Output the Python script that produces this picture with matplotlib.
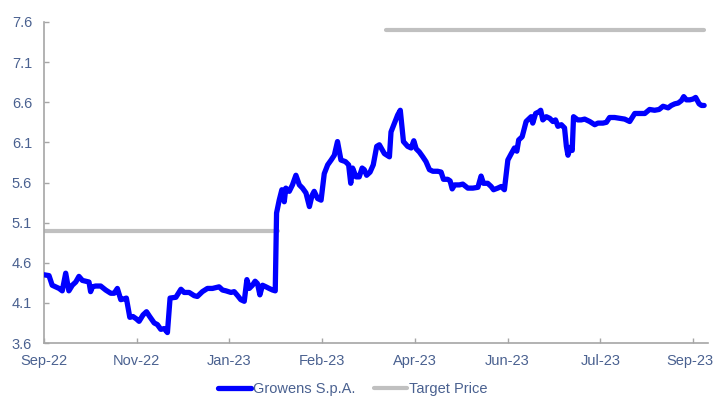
import numpy as np
import matplotlib
matplotlib.use("Agg")
import matplotlib.pyplot as plt
import matplotlib.transforms as mtransforms

plt.rcParams['font.family'] = ['Liberation Sans', 'DejaVu Sans']

# Trading-session index (x) and Growens S.p.A. share price (EUR)
session = [0, 1.9, 3.1, 4.4, 5.7, 6.9, 8.2, 9.4, 10.7, 12, 13.2, 14.5, 15.8, 17, 17.6, 18.3,
           19.5, 21.4, 23.3, 25.2, 26.5, 27.7, 29, 30.2, 31.1, 32.4, 33.6, 34.9, 35.9, 37.4,
           38.7, 39.9, 41.6, 42.8, 44.1, 45.4, 46.6, 47.6, 49.8, 51.7, 52.9, 54.8, 56.7, 57.9,
           59.8, 61.7, 63.6, 66.1, 67.4, 68.7, 70.6, 71.8, 73.1, 74.3, 75.6, 76.6, 77.5, 78.7,
           79.7, 80.6, 81.5, 82.5, 83.8, 85, 86.3, 87.3, 87.8, 88.8, 89.8, 90.7, 91.3, 92.6,
           93.8, 95.1, 96.4, 97.6, 98.9, 100.2, 101.2, 102, 103.3, 104.6, 105.8, 107.1, 108.4,
           109.6, 110.8, 112.1, 113.8, 115, 115.8, 116.5, 117.8, 119, 120.1, 120.9, 121.8,
           123.1, 124.3, 125.6, 126.6, 128.5, 130.4, 131, 132.3, 133.5, 134.5, 135.7, 137.3,
           138.6, 139.6, 140.5, 141.7, 143, 144.2, 145.5, 146.8, 148.6, 149.9, 150.8, 152.4,
           153.3, 154.1, 155, 156.8, 158.1, 160, 161.9, 163.8, 165, 165.9, 167.5, 168.8, 169.7,
           171.3, 172.6, 173.8, 175.1, 176.4, 177.6, 178.5, 179.2, 180.5, 182, 183.3, 183.9,
           184.5, 185.6, 186.8, 187.5, 188.3, 189.6, 190.9, 192.1, 193.1, 194, 195.3, 196.5,
           197.2, 197.8, 198.7, 199.4, 199.9, 201.5, 202.8, 204.1, 206, 207.9, 209.1, 211,
           212.3, 213.5, 215.4, 217.3, 219.2, 221.1, 223, 224.9, 226.8, 228.6, 230.5, 232.2,
           233.7, 235.6, 236.8, 238.1, 239.4, 240.6, 241.5, 242.5, 243.8, 245, 246, 247.3,
           248.2, 249.2]
price = [4.45, 4.44, 4.32, 4.30, 4.28, 4.25, 4.47, 4.25, 4.32, 4.36, 4.43, 4.38, 4.37, 4.36, 4.24, 4.30,
         4.31, 4.31, 4.26, 4.22, 4.22, 4.28, 4.14, 4.15, 4.16, 3.92, 3.93, 3.90, 3.87, 3.95,
         3.99, 3.93, 3.85, 3.83, 3.77, 3.78, 3.73, 4.16, 4.17, 4.27, 4.23, 4.23, 4.19, 4.18,
         4.24, 4.28, 4.28, 4.30, 4.26, 4.25, 4.23, 4.24, 4.19, 4.14, 4.12, 4.39, 4.28, 4.32,
         4.37, 4.34, 4.20, 4.32, 4.30, 4.28, 4.26, 4.25, 5.22, 5.38, 5.51, 5.36, 5.53, 5.49,
         5.57, 5.69, 5.57, 5.53, 5.47, 5.30, 5.44, 5.49, 5.40, 5.38, 5.71, 5.82, 5.88,
         5.94, 6.11, 5.88, 5.86, 5.82, 5.59, 5.78, 5.67, 5.67, 5.78, 5.76, 5.69,
         5.73, 5.82, 6.05, 6.07, 5.96, 5.92, 6.23, 6.34, 6.44, 6.50, 6.11, 6.05,
         6.03, 6.12, 6.02, 5.98, 5.92, 5.86, 5.76, 5.74, 5.74, 5.73, 5.64, 5.64,
         5.62, 5.52, 5.57, 5.57, 5.58, 5.53, 5.53, 5.54, 5.68, 5.59, 5.59, 5.55, 5.51,
         5.53, 5.55, 5.51, 5.88, 5.96, 6.03, 5.99, 6.13, 6.17, 6.36, 6.40, 6.42,
         6.34, 6.46, 6.48, 6.50, 6.38, 6.42, 6.40, 6.36, 6.38, 6.30, 6.32, 6.28,
         6.05, 5.94, 6.04, 6.00, 6.42, 6.38, 6.38, 6.39, 6.36, 6.32, 6.34, 6.34,
         6.35, 6.41, 6.41, 6.40, 6.39, 6.36, 6.46, 6.46, 6.46, 6.51, 6.50, 6.51,
         6.55, 6.53, 6.56, 6.58, 6.59, 6.62, 6.67, 6.63, 6.63, 6.64, 6.66, 6.58,
         6.56, 6.56]

# Target price (two periods, gap in between)
target_session = [0, 88.4, 108, 129.2, 249.2]
target_price = [5.0, 5.0, np.nan, 7.5, 7.5]

tick_sessions = [0, 35, 70, 105, 140, 175, 210, 245]
tick_labels = ['Sep-22', 'Nov-22', 'Jan-23', 'Feb-23', 'Apr-23', 'Jun-23', 'Jul-23', 'Sep-23']
y_ticks = [3.6, 4.1, 4.6, 5.1, 5.6, 6.1, 6.6, 7.1, 7.6]

label_color = '#4a6190'
axis_color = '#a6a6a6'

fig = plt.figure(figsize=(7.15, 3.97), dpi=100)
ax = fig.add_axes([0.0615, 0.136, 0.9285, 0.8086])

ax.plot(session, price, color='#0000ff', lw=3.8, solid_joinstyle='round',
        solid_capstyle='round', label='Growens S.p.A.', zorder=3)
ax.plot(target_session, target_price, color='#c0c0c0', lw=3.0,
        solid_capstyle='round', label='Target Price', zorder=2)

ax.set_xlim(0, 250.6)
ax.set_ylim(3.6, 7.6)
ax.set_yticks(y_ticks)
ax.set_yticklabels([f'{v:.1f}' for v in y_ticks])
ax.set_xticks(tick_sessions)
ax.set_xticklabels(tick_labels)

for s in ['top', 'right']:
    ax.spines[s].set_visible(False)
for s in ['left', 'bottom']:
    ax.spines[s].set_color(axis_color)
    ax.spines[s].set_linewidth(1.2)

ax.tick_params(axis='both', direction='in', length=3.5, width=1, color=axis_color,
               labelcolor=label_color, labelsize=10.5)
ax.tick_params(axis='y', pad=8.5)
ax.tick_params(axis='x', pad=8)

# keep the last x label inside the figure edge
last = ax.get_xticklabels()[-1]
last.set_transform(last.get_transform() +
                   mtransforms.ScaledTranslation(-3.5 / 100, 0, fig.dpi_scale_trans))

leg = fig.legend(loc='center', bbox_to_anchor=(0.493, 0.02), ncol=2, frameon=False,
                 fontsize=10.5, handlelength=2.3, handletextpad=0.1, columnspacing=1.3)
for t in leg.get_texts():
    t.set_color(label_color)

fig.savefig('out.png', dpi=100)
